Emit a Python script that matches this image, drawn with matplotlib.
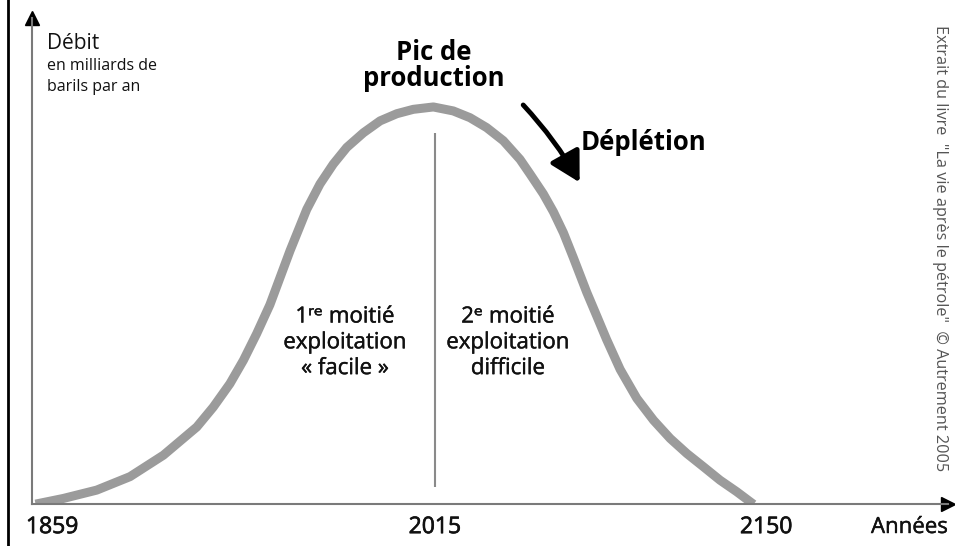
import matplotlib.pyplot as plt
import matplotlib.patheffects as pe
from matplotlib.lines import Line2D

# Courbe de Hubbert (débit relatif, pic = 100)
annees = [1854.1, 1863.6, 1877.2, 1890.8, 1904.4, 1918.0, 1924.7, 1931.5, 1937.0, 1942.4,
          1947.8, 1951.9, 1956.0, 1962.8, 1968.2, 1973.6, 1979.1, 1985.9, 1992.7, 1999.5,
          2006.2, 2014.4, 2022.5, 2029.3, 2036.1, 2042.9, 2049.7, 2053.8, 2059.2, 2063.3,
          2067.4, 2071.4, 2076.9, 2081.0, 2085.0, 2090.5, 2097.3, 2104.1, 2110.9, 2117.7,
          2124.4, 2131.2, 2138.0, 2143.4]
debit = [0.2, 1.4, 3.5, 6.9, 12.3, 19.4, 24.4, 30.3, 36.2, 42.9,
         50.2, 57.0, 63.8, 74.2, 80.6, 85.6, 89.8, 93.5, 96.5, 98.3,
         99.4, 100.0, 99.0, 97.3, 94.8, 91.5, 86.8, 83.1, 78.1, 73.6,
         68.3, 62.1, 53.3, 47.3, 41.4, 33.9, 26.6, 21.1, 16.5, 12.7,
         9.4, 6.0, 3.1, 0.6]

reperes = [1859, 2015, 2150]
annee_pic = 2015

plt.rcParams['font.family'] = ['Open Sans', 'DejaVu Sans']
epais = [pe.withStroke(linewidth=0.5, foreground='#111111')]
leger = [pe.withStroke(linewidth=0.3, foreground='#111111')]

fig = plt.figure(figsize=(9.55, 5.46), dpi=100)
ax = fig.add_axes([0.0335, 0.0769, 0.9592, 0.8901])

ax.plot(annees, debit, color='#9b9b9b', lw=6.5, solid_joinstyle='round', zorder=2)
ax.vlines(annee_pic, 4.3, 93.5, color='#8a8a8a', lw=1.5, zorder=1)

ax.set_xlim(1850.85, 2224.1)
ax.set_ylim(0, 122.4)
for s in ['top', 'right']:
    ax.spines[s].set_visible(False)
for s in ['left', 'bottom']:
    ax.spines[s].set_color('#7a7a7a')
    ax.spines[s].set_linewidth(1.5)
ax.plot(1, 0, '>', color='black', ms=10.5, transform=ax.transAxes, clip_on=False)
ax.plot(0, 1, '^', color='black', ms=10.5, transform=ax.transAxes, clip_on=False)

ax.set_yticks([])
ax.set_xticks(reperes)
ax.set_xticklabels([str(a) for a in reperes])
ax.tick_params(axis='x', length=0, pad=8, labelsize=16.5, labelcolor='#111111')
for lab in ax.get_xticklabels():
    lab.set_path_effects(epais)

# annotations
ax.text(2014.5, 117, 'Pic de\nproduction', ha='center', va='top', fontsize=18.5,
        fontweight='bold', linespacing=0.95)
ax.text(2074.5, 89.2, 'Déplétion', ha='left', va='baseline', fontsize=18.5, fontweight='bold')
ax.annotate('', xy=(2074, 81), xytext=(2051, 100.5),
            arrowprops=dict(arrowstyle='-|>,head_length=0.9,head_width=0.5', color='black',
                            lw=3.5, connectionstyle='arc3,rad=-0.06', mutation_scale=20,
                            shrinkA=0, shrinkB=0))

ax.text(1978.4, 40.6, '1ʳᵉ moitié\nexploitation\n« facile »', ha='center', va='center',
        fontsize=16, linespacing=1.3, color='#111111', path_effects=leger)
ax.text(2044.8, 40.6, '2ᵉ moitié\nexploitation\ndifficile', ha='center', va='center',
        fontsize=16, linespacing=1.3, color='#111111', path_effects=leger)

# titre de l'axe vertical
fig.text(47 / 955, 1 - 49 / 546, 'Débit', fontsize=15, va='baseline', color='#111111')
fig.text(47 / 955, 1 - 70 / 546, 'en milliards de', fontsize=11.5, va='baseline', color='#111111')
fig.text(47 / 955, 1 - 91 / 546, 'barils par an', fontsize=11.5, va='baseline', color='#111111')
fig.text(948 / 955, 1 - 533 / 546, 'Années', ha='right', va='baseline', fontsize=16,
         color='#111111', path_effects=leger)

fig.text(940 / 955, 1 - 25 / 546, 'Extrait du livre  "La vie après le pétrole"  © Autrement 2005',
         rotation=-90, ha='center', va='top', fontsize=11.7, color='#555555')

fig.add_artist(Line2D([8 / 955, 8 / 955], [0, 1], color='black', lw=2))

fig.savefig('out.png', dpi=100)
